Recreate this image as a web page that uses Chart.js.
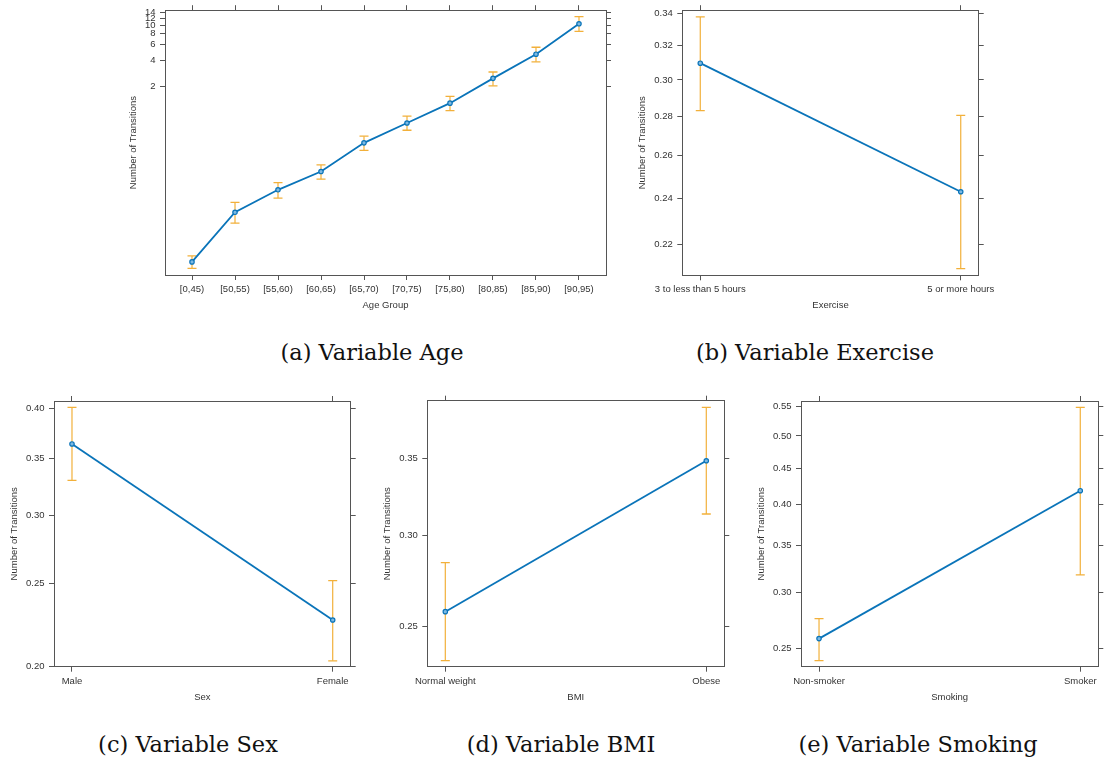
<!DOCTYPE html>
<html>
<head>
<meta charset="utf-8">
<script src="https://cdn.jsdelivr.net/npm/chart.js@4/dist/chart.umd.min.js"></script>
<style>
  html, body { margin: 0; padding: 0; background: #fff; }
  body { width: 1105px; height: 765px; position: relative; overflow: hidden; }
  canvas { position: absolute; }
  .cap { position: absolute; font-family: "DejaVu Serif", serif; font-size: 22.5px; line-height: 26px;
         color: #111; white-space: nowrap; transform: translateX(-50%); }
</style>
</head>
<body>
<canvas id="cA" width="510" height="320" style="left:110px;top:0px"></canvas>
<canvas id="cB" width="374" height="320" style="left:625px;top:0px"></canvas>
<canvas id="cC" width="365" height="320" style="left:0px;top:390px"></canvas>
<canvas id="cD" width="368" height="320" style="left:370px;top:390px"></canvas>
<canvas id="cE" width="365" height="320" style="left:740px;top:390px"></canvas>
<div class="cap" style="left:372px;top:339px">(a) Variable Age</div>
<div class="cap" style="left:815px;top:339px">(b) Variable Exercise</div>
<div class="cap" style="left:188px;top:731px">(c) Variable Sex</div>
<div class="cap" style="left:561px;top:731px">(d) Variable BMI</div>
<div class="cap" style="left:918px;top:731px">(e) Variable Smoking</div>
<script>
// ---------- data ----------
const yTitle = 'Number of Transitions';

const ageCats  = ['[0,45)', '[50,55)', '[55,60)', '[60,65)', '[65,70)', '[70,75)', '[75,80)', '[80,85)', '[85,90)', '[90,95)'];
const ageFit   = [0.0203, 0.0744, 0.134, 0.216, 0.458, 0.770, 1.295, 2.48, 4.67, 10.35];
const ageLower = [0.0171, 0.0559, 0.108, 0.177, 0.376, 0.637, 1.063, 2.04, 3.82, 8.49];
const ageUpper = [0.0237, 0.0965, 0.162, 0.257, 0.546, 0.924, 1.55, 2.93, 5.60, 12.5];
const ageTicks = [2, 4, 6, 8, 10, 12, 14];

const exCats  = ['3 to less than 5 hours', '5 or more hours'];
const exFit   = [0.3096, 0.2430];
const exLower = [0.2831, 0.2102];
const exUpper = [0.3378, 0.2806];
const exTicks = [0.22, 0.24, 0.26, 0.28, 0.30, 0.32, 0.34];

const sexCats  = ['Male', 'Female'];
const sexFit   = [0.3635, 0.2267];
const sexLower = [0.3297, 0.2032];
const sexUpper = [0.4010, 0.2519];
const sexTicks = [0.20, 0.25, 0.30, 0.35, 0.40];

const bmiCats  = ['Normal weight', 'Obese'];
const bmiFit   = [0.2573, 0.3483];
const bmiLower = [0.2332, 0.3130];
const bmiUpper = [0.2839, 0.3877];
const bmiTicks = [0.25, 0.30, 0.35];

const smCats  = ['Non-smoker', 'Smoker'];
const smFit   = [0.2583, 0.4183];
const smLower = [0.2404, 0.3179];
const smUpper = [0.2757, 0.5489];
const smTicks = [0.25, 0.30, 0.35, 0.40, 0.45, 0.50, 0.55];

// ---------- drawing ----------
Chart.defaults.font.family = '"Liberation Sans", Arial, sans-serif';
Chart.defaults.font.size = 9.5;
Chart.defaults.color = '#333';

const FRAME = '#555';
const BLUE = '#0a74b9';
const ORANGE = '#f2b03a';

function panel(id, cats, fit, lower, upper, yTicks, yMin, yMax, xPad, xTitle, L, R, T, B, yTitlePad, xTitlePad, fmt) {
  const n = cats.length;
  const xTickVals = cats.map((c, i) => i);
  const errData = [];
  for (let i = 0; i < n; i++) {
    errData.push({x: i, y: lower[i]}, {x: i, y: upper[i]}, {x: i, y: null});
  }
  const grid = {drawOnChartArea: false, drawTicks: true, tickLength: 5, color: FRAME, tickColor: FRAME, lineWidth: 1};
  const border = {display: true, color: FRAME, width: 1};
  const setX = s => { s.ticks = xTickVals.map(v => ({value: v})); };
  const setY = s => { s.ticks = yTicks.map(v => ({value: v})); };
  const xBase = {type: 'linear', min: -xPad, max: n - 1 + xPad, bounds: 'data', grid, border, afterBuildTicks: setX};
  const yBase = {type: 'logarithmic', min: yMin, max: yMax, bounds: 'data', grid, border, afterBuildTicks: setY};
  new Chart(document.getElementById(id), {
    type: 'line',
    data: {
      datasets: [
        {data: fit.map((v, i) => ({x: i, y: v})), borderColor: BLUE, borderWidth: 1.8,
         pointRadius: 2.2, pointBorderWidth: 1.2, pointBorderColor: BLUE, pointBackgroundColor: '#7db9e3',
         tension: 0, order: 0, xAxisID: 'x', yAxisID: 'y'},
        {data: errData, borderColor: ORANGE, borderWidth: 1.2, spanGaps: false,
         pointStyle: 'line', pointRadius: 4.5, pointBorderWidth: 1.3, pointBorderColor: ORANGE,
         order: 1, xAxisID: 'x', yAxisID: 'y'}
      ]
    },
    options: {
      responsive: false, animation: false, devicePixelRatio: 1,
      layout: {padding: 0},
      plugins: {legend: {display: false}, tooltip: {enabled: false}},
      scales: {
        x: Object.assign({}, xBase, {position: 'bottom',
          ticks: {autoSkip: false, maxRotation: 0, minRotation: 0, padding: 3.5, callback: v => cats[v]},
          title: {display: true, text: xTitle, padding: {top: 0, bottom: xTitlePad}},
          afterFit: s => { s.height = B; }}),
        x2: Object.assign({}, xBase, {position: 'top', ticks: {display: false},
          afterFit: s => { s.height = T; }}),
        y: Object.assign({}, yBase, {position: 'left',
          ticks: {padding: 4.5, callback: v => fmt(v)},
          title: {display: true, text: yTitle, padding: {top: yTitlePad, bottom: 0}},
          afterFit: s => { s.width = L; }}),
        y2: Object.assign({}, yBase, {position: 'right', ticks: {display: false},
          afterFit: s => { s.width = R; }})
      }
    }
  });
}

const fmtInt = v => String(v);
const fmt2 = v => Number(v).toFixed(2);

panel('cA', ageCats, ageFit, ageLower, ageUpper, ageTicks, 0.0144, 14.77, 0.628, 'Age Group', 55, 14, 8, 45, 17.3, 9.3, fmtInt);
panel('cB', exCats, exFit, exLower, exUpper, exTicks, 0.2076, 0.3421, 0.069, 'Exercise', 57.3, 19.7, 9, 44.7, 11.3, 9.3, fmt2);
panel('cC', sexCats, sexFit, sexLower, sexUpper, sexTicks, 0.2000, 0.4079, 0.069, 'Sex', 54, 14.3, 11, 43.3, 8.3, 7.3, fmt2);
panel('cD', bmiCats, bmiFit, bmiLower, bmiUpper, bmiTicks, 0.2304, 0.3929, 0.069, 'BMI', 57.3, 13.7, 10.7, 43.3, 11.8, 7.3, fmt2);
panel('cE', smCats, smFit, smLower, smUpper, smTicks, 0.2357, 0.5603, 0.069, 'Smoking', 61, 6.7, 11, 43.3, 15.3, 7.3, fmt2);
</script>
</body>
</html>
